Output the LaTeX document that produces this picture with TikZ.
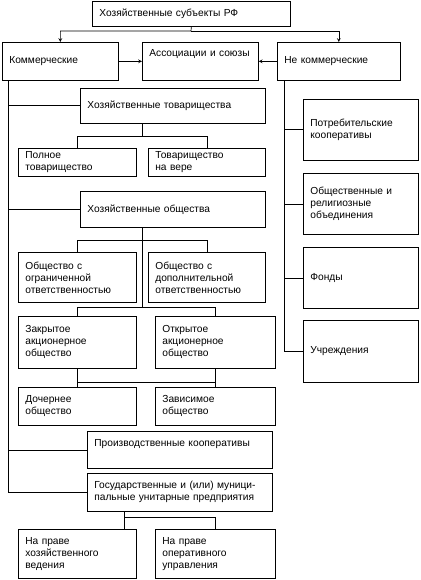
\documentclass[tikz,border=0pt]{standalone}
\usepackage{fontspec}
\setmainfont{Liberation Sans}
\usetikzlibrary{arrows}
\tikzset{x=1pt, y=-1pt,
every node/.style={font=\fontsize{10.2}{12}\selectfont},
box/.style 2 args={ % Box given by its width and height, text on the left
draw,
anchor=north west,
align=left,
inner xsep=7pt,
line width=0.7pt,
minimum width=#1pt,
minimum height=#2pt,
text width=#1pt-14pt},
every path/.style={line width=0.7pt},
>=stealth}

\begin{document}
\begin{tikzpicture}
\useasboundingbox (0,0) rectangle (420,580);
\node[box={198}{25}] (top) at (92,1) {Хозяйственные субъекты РФ};
\node[box={116}{38}] (kom) at (2,42) {Коммерческие};
\node[box={116}{38}, text depth=16pt] (assoc) at (142,42) {Ассоциации и союзы};
\node[box={123}{38}] (nkom) at (277,42) {Не коммерческие};
\node[box={185}{35}] (tov) at (80,88) {Хозяйственные товарищества};
\node[box={118}{28}] (poln) at (18,148) {Полное\\товарищество};
\node[box={117}{28}] (vera) at (148,148) {Товарищество\\на вере};
\node[box={185}{36}] (obsh) at (80,191) {Хозяйственные общества};
\node[box={118}{50}] (ogr) at (18,252) {Общество с\\ограниченной\\ответственностью};
\node[box={117}{50}] (dop) at (148,252) {Общество с\\дополнительной\\ответственностью};
\node[box={118}{52}] (zao) at (18,316) {Закрытое\\акционерное\\общество};
\node[box={120}{52}] (oao) at (155,316) {Открытое\\акционерное\\общество};
\node[box={118}{38}] (doch) at (18,387) {Дочернее\\общество};
\node[box={120}{38}] (zav) at (155,387) {Зависимое\\общество};
\node[box={185}{37}, text depth=13pt] (proiz) at (87,431) {Производственные кооперативы};
\node[box={185}{38}] (gos) at (87,473) {Государственные и (или) муници-\\пальные унитарные предприятия};
\node[box={118}{49}] (hved) at (18,529) {На праве\\хозяйственного\\ведения};
\node[box={120}{49}] (oper) at (155,529) {На праве\\оперативного\\управления};
\node[box={115}{61}] (potr) at (303,99) {Потребительские\\кооперативы};
\node[box={115}{61}] (obr) at (303,173) {Общественные и\\религиозные\\объединения};
\node[box={115}{61}] (fond) at (303,247) {Фонды};
\node[box={115}{62}] (uchr) at (303,320) {Учреждения};

\coordinate (j0) at (191,31);
\draw[->] (top.south) -- (j0) -| (kom.north);
\draw[->] (j0) -| (nkom.north);
\draw[->] (kom) -- (assoc);
\draw[->] (nkom) -- (assoc);

\coordinate (t1) at ([xshift=6pt]kom.south west);
\draw (t1) |- (gos.west);
\foreach \n in {tov,obsh,proiz}
  \draw (t1 |- \n.west) -- (\n.west);

\coordinate (j1) at (142,136);
\draw (j1 |- tov.south) -- (j1) -| (poln.north);
\draw (j1) -| (vera.north);

\coordinate (j2) at (142,240);
\coordinate (j3) at (142,307);
\draw (j2 |- obsh.south) -- (j3);
\draw (j2) -| (ogr.north);
\draw (j2) -| (dop.north);
\draw (j3) -| (zao.north);
\draw (j3) -| (oao.north);

\coordinate (j4) at (0,382);
\draw (zao) -- (doch);
\draw (oao) -- (zav);
\draw (zao.south |- j4) -- (oao.south |- j4);

\coordinate (j5) at (124,517);
\draw (j5 |- gos.south) -- (j5 |- hved.north);
\draw (j5) -| (oper.north);

\coordinate (t2) at ([xshift=7pt]nkom.south west);
\draw (t2) |- (uchr.west);
\foreach \n in {potr,obr,fond}
  \draw (t2 |- \n.west) -- (\n.west);
\end{tikzpicture}
\end{document}
